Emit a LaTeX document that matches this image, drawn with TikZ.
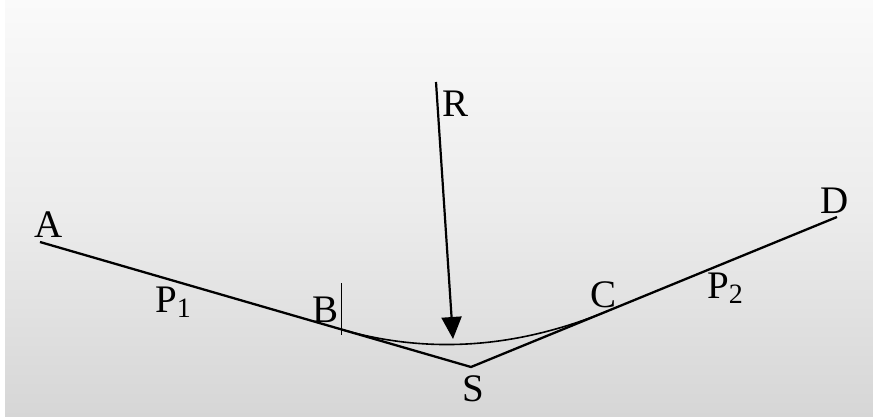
\documentclass[tikz,border=0pt]{standalone}
\usepackage{fontspec}
\setmainfont{Liberation Serif}
\usetikzlibrary{calc,arrows.meta}
\definecolor{bgtop}{RGB}{250,250,250}
\definecolor{bgmid}{RGB}{236,236,236}
\definecolor{bgbot}{RGB}{214,214,214}
\newcommand{\subs}[1]{\raisebox{-5pt}{\fontsize{28}{28}\selectfont #1}}
\tikzset{
  lbl/.style={inner sep=0pt, anchor=base west, font=\fontsize{39}{42}\selectfont},
  mainline/.style={line width=2.3pt, line join=miter},
  curveline/.style={line width=1.6pt},
  tickline/.style={line width=0.9pt},
  force/.style={line width=2.2pt, -{Triangle[width=20pt,length=22pt]}},
}
\begin{document}
\begin{tikzpicture}[x=1pt,y=-1pt]
\useasboundingbox (0,0) rectangle (873,417);
\fill[white] (0,0) rectangle (873,417);
\shade[top color=bgtop, bottom color=bgbot, middle color=bgmid] (5,0) rectangle (873,417);
% points
\coordinate (A) at (40,242);
\coordinate (S) at (471,367);
\coordinate (D) at (837,217);
\coordinate (B) at ($(A)!0.699!(S)$);
\coordinate (C) at ($(S)!0.372!(D)$);
\coordinate (Btop) at (341,283);
\coordinate (Bbot) at (341,335);
\coordinate (Rtop) at (436,82);
\coordinate (Rtip) at (453,339);
% lines
\draw[mainline] (A) -- (S) -- (D);
\draw[curveline] (B) .. controls ($(B)!2/3!(S)$) and ($(C)!2/3!(S)$) .. (C);
\draw[tickline] (Btop) -- (Bbot);
\draw[force] (Rtop) -- (Rtip);
% labels
\node[lbl] (lA) at (34,237) {A};
\node[lbl] (lP1) at (155,312) {P\subs{1}};
\node[lbl] (lB) at (312,322) {B};
\node[lbl] (lR) at (442,117) {R};
\node[lbl] (lC) at (590,307) {C};
\node[lbl] (lP2) at (707,298) {P\subs{2}};
\node[lbl] (lD) at (820,213) {D};
\node[lbl] (lS) at (462,401) {S};
\end{tikzpicture}
\end{document}
